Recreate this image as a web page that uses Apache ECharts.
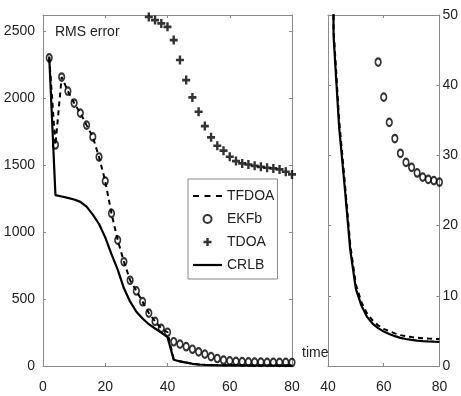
<!DOCTYPE html>
<html>
<head>
<meta charset="utf-8">
<script src="https://cdn.jsdelivr.net/npm/echarts@6/dist/echarts.min.js"></script>
<style>
html,body{margin:0;padding:0;background:#fff;}
#chart{width:461px;height:396px;}
</style>
</head>
<body>
<div id="chart"></div>
<script>
// ---- data ----
var timeSteps = [2,4,6,8,10,12,14,16,18,20,22,24,26,28,30,32,34,36,38,40,
                 42,44,46,48,50,52,54,56,58,60,62,64,66,68,70,72,74,76,78,80];
var tfdoa = [2300,1650,2157,2052,1963,1888,1798,1710,1560,1380,1139,940,778,640,560,480,395,333,281,252,
             48,35,26.3,17.2,11.6,9.1,7.5,6.5,5.8,5.3,4.95,4.65,4.4,4.25,4.12,4.02,3.95,3.9,3.87,3.85];
var ekfb = [2300,1650,2157,2052,1963,1888,1798,1710,1560,1380,1139,940,778,640,560,480,395,333,281,252,
            181,163,144,125,106,89,70,56,43.3,38.3,34.7,32.4,30.3,29.0,28.3,27.5,26.9,26.6,26.4,26.2];
var crlb = [2310,1275,1265,1255,1243,1225,1190,1130,1060,960,835,720,580,480,405,355,312,280,250,215,
            47,34,25.5,16.5,11,8.6,7.0,6.05,5.4,4.9,4.55,4.25,4.0,3.85,3.72,3.62,3.55,3.5,3.47,3.45];
var tdoaTime = [34,36,38,40,42,44,46,48,50,52,54,56,58,60,62,64,66,68,70,72,74,76,78,80];
var tdoa = [2605,2582,2557,2532,2433,2284,2134,2005,1898,1791,1707,1644,1607,1562,1530,1512,1504,1494,1487,1480,1475,1467,1450,1430];
var leftXTicks = [0,20,40,60,80];
var leftYTicks = [0,500,1000,1500,2000,2500];
var rightXTicks = [40,60,80];
var rightYTicks = [0,10,20,30,40,50];
var seriesNames = ['TFDOA','EKFb','TDOA','CRLB'];

function pairs(xs, ys){ return xs.map(function(x,i){ return [x, ys[i]]; }); }

var FONT = "'Liberation Sans',Arial,sans-serif";
var FS = 14;
var AXC = '#8a8a8a';
var labelStyle = {fontFamily: FONT, fontSize: FS, color: '#222'};
var CIRCLE = 'path://M0,5 A5,5 0 1,1 10,5 A5,5 0 1,1 0,5 Z';
var PLUS = 'path://M3.5,0H6.5V3.5H10V6.5H6.5V10H3.5V6.5H0V3.5H3.5Z';
var DASH_ICON = 'path://M0,0H6V2.2H0Z M11.5,0H17.5V2.2H11.5Z M23,0H29V2.2H23Z';
var SOLID_ICON = 'path://M0,0H29V2.2H0Z';

function tickSetFormatter(list){
  return function(v){ return list.indexOf(v) >= 0 ? String(v) : ''; };
}
function xAx(grid, min, max, pos, ticks, showLabel){
  return {
    type:'value', gridIndex:grid, min:min, max:max, interval:20, position:pos,
    axisLine:{show:true, onZero:false, lineStyle:{color:AXC, width:1}},
    axisTick:{show:true, inside:true, length:3, lineStyle:{color:AXC}},
    axisLabel:Object.assign({show:showLabel, margin:14, formatter:tickSetFormatter(ticks)}, labelStyle),
    splitLine:{show:false}
  };
}
function yAx(grid, min, max, interval, pos, ticks, showLabel, margin){
  return {
    type:'value', gridIndex:grid, min:min, max:max, interval:interval, position:pos,
    axisLine:{show:true, onZero:false, lineStyle:{color:AXC, width:1}},
    axisTick:{show:true, inside:true, length:3, lineStyle:{color:AXC}},
    axisLabel:Object.assign({show:showLabel, margin:margin, formatter:tickSetFormatter(ticks)}, labelStyle),
    splitLine:{show:false}
  };
}

function makeSeries(xi, yi){
  return [
    {name:'TFDOA', type:'line', xAxisIndex:xi, yAxisIndex:yi, data:pairs(timeSteps, tfdoa),
     symbol:'none', lineStyle:{color:'#000', width:2, type:[5,4]}, itemStyle:{color:'#000'}, z:3, clip:true},
    {name:'EKFb', type:'scatter', xAxisIndex:xi, yAxisIndex:yi, data:pairs(timeSteps, ekfb),
     symbol:CIRCLE, symbolSize:[5.5,7.5], symbolKeepAspect:false,
     itemStyle:{color:'rgba(0,0,0,0)', borderColor:'#000', borderWidth:1.9}, z:4, clip:true},
    {name:'TDOA', type:'scatter', xAxisIndex:xi, yAxisIndex:yi, data:pairs(tdoaTime, tdoa),
     symbol:PLUS, symbolSize:[8,9], symbolKeepAspect:false,
     itemStyle:{color:'#000'}, z:4, clip:true},
    {name:'CRLB', type:'line', xAxisIndex:xi, yAxisIndex:yi, data:pairs(timeSteps, crlb),
     symbol:'none', lineStyle:{color:'#000', width:2.2}, itemStyle:{color:'#000'}, z:3, clip:true}
  ];
}

var chart = echarts.init(document.getElementById('chart'), null, {renderer:'canvas'});
chart.setOption({
  animation:false,
  backgroundColor:'#fff',
  grid:[
    {left:43, top:15, width:249, height:351},
    {left:328, top:15, width:117, height:351}
  ],
  xAxis:[
    xAx(0, 0, 80, 'bottom', leftXTicks, true),
    xAx(0, 0, 80, 'top', leftXTicks, false),
    xAx(1, 40, 80, 'bottom', rightXTicks, true),
    xAx(1, 40, 80, 'top', rightXTicks, false)
  ],
  yAxis:[
    yAx(0, 0, 2620, 500, 'left', leftYTicks, true, 8),
    yAx(0, 0, 2620, 500, 'right', leftYTicks, false, 8),
    yAx(1, 0, 50, 10, 'left', rightYTicks, false, 3),
    yAx(1, 0, 50, 10, 'right', rightYTicks, true, 3)
  ],
  legend:{
    data:[
      {name:seriesNames[0], icon:DASH_ICON, itemStyle:{color:'#000'}},
      {name:seriesNames[1]},
      {name:seriesNames[2]},
      {name:seriesNames[3], icon:SOLID_ICON, itemStyle:{color:'#000'}}
    ],
    orient:'vertical', left:188, top:179,
    itemWidth:29, itemHeight:8, itemGap:9, itemLabelGap:4,
    padding:[10,3,7,5],
    borderColor:'#888', borderWidth:1, backgroundColor:'#fff',
    textStyle:{fontFamily:FONT, fontSize:FS, color:'#222'},
    selectedMode:false
  },
  graphic:[
    {type:'text', left:55, top:25, style:{text:'RMS error', font:FS + "px " + FONT, fill:'#222'}},
    {type:'text', left:302, top:346, style:{text:'time', font:FS + "px " + FONT, fill:'#222'}}
  ],
  series:[].concat(makeSeries(0,0), makeSeries(2,2))
});
</script>
</body>
</html>
